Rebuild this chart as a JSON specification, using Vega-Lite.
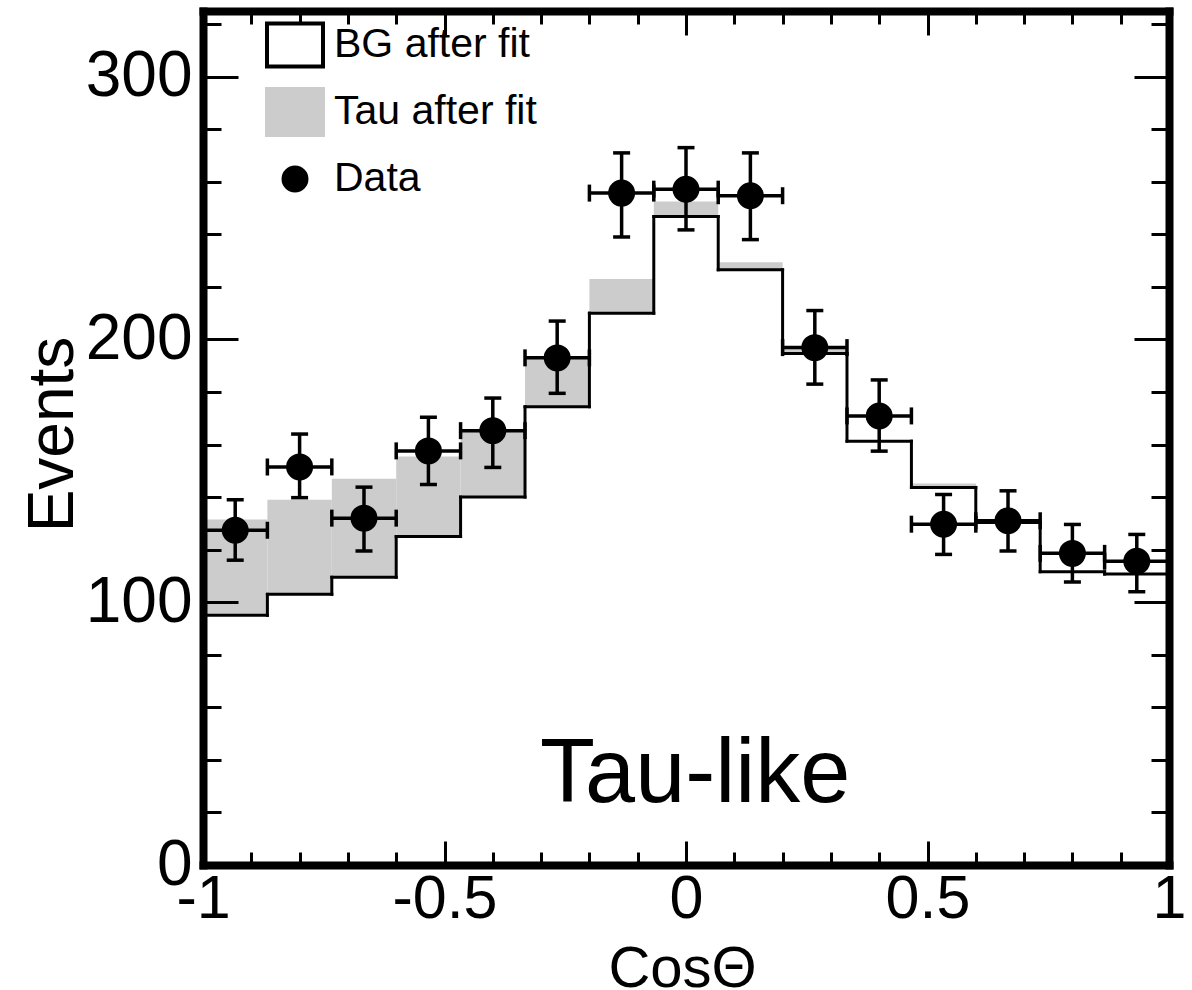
{
  "$schema": "https://vega.github.io/schema/vega-lite/v6.json",
  "autosize": "none",
  "width": 966,
  "height": 854,
  "padding": {"left": 203, "top": 11, "right": 23, "bottom": 125},
  "background": "white",
  "config": {
    "view": {"stroke": null},
    "font": "Liberation Sans",
    "legend": {
      "orient": "none",
      "legendX": 62,
      "legendY": 4,
      "padding": 0,
      "labelFont": "Liberation Sans",
      "labelFontSize": 41,
      "labelColor": "black",
      "labelOffset": 9,
      "labelLimit": 0,
      "rowPadding": 6,
      "symbolStrokeWidth": 4,
      "symbolSize": 3136
    }
  },
  "datasets": {
    "bins": [
      {"lo": -1, "hi": -0.8667, "x": -0.9333, "bg": 95, "total": 131.5, "data": 127.4, "elo": 116, "ehi": 139},
      {"lo": -0.8667, "hi": -0.7333, "x": -0.8, "bg": 103, "total": 139, "data": 151.5, "elo": 139.8, "ehi": 164},
      {"lo": -0.7333, "hi": -0.6, "x": -0.6667, "bg": 109.5, "total": 147, "data": 132, "elo": 119.5, "ehi": 143.8},
      {"lo": -0.6, "hi": -0.4667, "x": -0.5333, "bg": 125, "total": 155.5, "data": 157.6, "elo": 144.8, "ehi": 170.4},
      {"lo": -0.4667, "hi": -0.3333, "x": -0.4, "bg": 140, "total": 165, "data": 165.3, "elo": 151.3, "ehi": 177.7},
      {"lo": -0.3333, "hi": -0.2, "x": -0.2667, "bg": 174.4, "total": 193.5, "data": 193, "elo": 179.5, "ehi": 207},
      {"lo": -0.2, "hi": -0.0667, "x": -0.1333, "bg": 210, "total": 223, "data": 255.7, "elo": 239, "ehi": 271},
      {"lo": -0.0667, "hi": 0.0667, "x": 0, "bg": 246.8, "total": 252.5, "data": 257.2, "elo": 241.7, "ehi": 273},
      {"lo": 0.0667, "hi": 0.2, "x": 0.1333, "bg": 226.5, "total": 229.4, "data": 254.7, "elo": 238, "ehi": 271},
      {"lo": 0.2, "hi": 0.3333, "x": 0.2667, "bg": 194.7, "total": 196.6, "data": 196.9, "elo": 183, "ehi": 211},
      {"lo": 0.3333, "hi": 0.4667, "x": 0.4, "bg": 161.3, "total": 161.3, "data": 170.9, "elo": 157.5, "ehi": 184.6},
      {"lo": 0.4667, "hi": 0.6, "x": 0.5333, "bg": 143.7, "total": 145.2, "data": 129.7, "elo": 118.2, "ehi": 141},
      {"lo": 0.6, "hi": 0.7333, "x": 0.6667, "bg": 130.3, "total": 130.3, "data": 131, "elo": 119.5, "ehi": 142.4},
      {"lo": 0.7333, "hi": 0.8667, "x": 0.8, "bg": 111.6, "total": 111.6, "data": 118.6, "elo": 107.7, "ehi": 129.6},
      {"lo": 0.8667, "hi": 1, "x": 0.9333, "bg": 110.7, "total": 110.7, "data": 115.6, "elo": 104, "ehi": 125.8}
    ],
    "note": [
      {"label": "Tau-like", "x": 0.019, "y": 24}
    ]
  },
  "data": {"name": "bins"},
  "resolve": {"axis": {"x": "independent", "y": "independent"}},
  "layer": [
    {
      "mark": {"type": "rect", "fill": "#cccccc", "stroke": null},
      "encoding": {
        "x": {
          "field": "lo", "type": "quantitative",
          "scale": {"domain": [-1, 1], "nice": false, "zero": false},
          "axis": {
            "orient": "bottom",
            "values": [-1, -0.9, -0.8, -0.7, -0.6, -0.5, -0.4, -0.3, -0.2, -0.1, 0, 0.1, 0.2, 0.3, 0.4, 0.5, 0.6, 0.7, 0.8, 0.9, 1],
            "labelExpr": "datum.value % 0.5 === 0 ? toString(datum.value) : ''",
            "tickSize": {"condition": {"test": "datum.value % 0.5 === 0", "value": -24}, "value": -13},
            "tickWidth": 3, "tickColor": "black",
            "domain": true, "domainWidth": 8, "domainColor": "black", "domainCap": "square",
            "grid": false,
            "labelFont": "Liberation Sans", "labelFontSize": 61, "labelColor": "black",
            "labelPadding": 76, "labelBaseline": "alphabetic", "labelFlush": false, "labelOverlap": false,
            "title": "CosΘ", "titleFont": "Liberation Sans", "titleFontSize": 58, "titleFontWeight": "normal",
            "titleColor": "black", "titleX": 479, "titleY": 121, "titleBaseline": "alphabetic", "titleAlign": "center",
            "zindex": 2
          }
        },
        "x2": {"field": "hi"},
        "y": {
          "field": "bg", "type": "quantitative",
          "scale": {"domain": [0, 325], "nice": false, "zero": false},
          "axis": {
            "orient": "left",
            "values": [0, 20, 40, 60, 80, 100, 120, 140, 160, 180, 200, 220, 240, 260, 280, 300, 320],
            "labelExpr": "datum.value % 100 === 0 ? toString(datum.value) : ''",
            "tickSize": {"condition": {"test": "datum.value % 100 === 0", "value": -35}, "value": -18},
            "tickWidth": 3, "tickColor": "black",
            "domain": true, "domainWidth": 8, "domainColor": "black", "domainCap": "square",
            "grid": false,
            "labelFont": "Liberation Sans", "labelFontSize": 64, "labelColor": "black",
            "labelPadding": 46, "labelAlign": "right", "labelBaseline": "middle", "labelOverlap": false, "labelFlush": false,
            "title": "Events", "titleFont": "Liberation Sans", "titleFontSize": 64, "titleFontWeight": "normal",
            "titleColor": "black", "titleX": -131, "titleY": 423, "titleAngle": 270,
            "titleBaseline": "alphabetic", "titleAlign": "center",
            "zindex": 2
          }
        },
        "y2": {"field": "total"}
      }
    },
    {
      "mark": {"type": "rule", "color": "black", "strokeWidth": 3, "strokeCap": "square"},
      "encoding": {
        "x": {"field": "lo", "type": "quantitative", "axis": null},
        "x2": {"field": "hi"},
        "y": {"field": "bg", "type": "quantitative", "axis": null}
      }
    },
    {
      "transform": [
        {"window": [{"op": "lead", "field": "bg", "as": "bg_next"}], "sort": [{"field": "lo", "order": "ascending"}]},
        {"filter": "datum.bg_next != null"}
      ],
      "mark": {"type": "rule", "color": "black", "strokeWidth": 3, "strokeCap": "square"},
      "encoding": {
        "x": {"field": "hi", "type": "quantitative", "axis": null},
        "y": {"field": "bg", "type": "quantitative", "axis": null},
        "y2": {"field": "bg_next"}
      }
    },
    {
      "mark": {"type": "errorbar", "size": 17, "thickness": 3.5, "color": "black", "opacity": 1,
               "ticks": {"color": "black", "opacity": 1}, "rule": {"color": "black", "opacity": 1}},
      "encoding": {
        "x": {"field": "lo", "type": "quantitative", "axis": null},
        "x2": {"field": "hi"},
        "y": {"field": "data", "type": "quantitative", "axis": null}
      }
    },
    {
      "mark": {"type": "errorbar", "size": 17, "thickness": 3.5, "color": "black", "opacity": 1,
               "ticks": {"color": "black", "opacity": 1}, "rule": {"color": "black", "opacity": 1}},
      "encoding": {
        "x": {"field": "x", "type": "quantitative", "axis": null},
        "y": {"field": "elo", "type": "quantitative", "axis": null},
        "y2": {"field": "ehi"}
      }
    },
    {
      "mark": {"type": "point", "filled": true, "opacity": 1, "strokeWidth": 4, "size": 3136},
      "encoding": {
        "x": {"field": "x", "type": "quantitative", "axis": null},
        "y": {"field": "data", "type": "quantitative", "axis": null},
        "fill": {
          "datum": "Data", "type": "nominal", "title": null,
          "scale": {"domain": ["BG after fit", "Tau after fit", "Data"], "range": ["white", "#cccccc", "black"]}
        },
        "stroke": {
          "datum": "Data", "type": "nominal", "title": null,
          "scale": {"domain": ["BG after fit", "Tau after fit", "Data"], "range": ["black", "#cccccc", "black"]}
        },
        "shape": {
          "datum": "Data", "type": "nominal", "title": null,
          "scale": {"domain": ["BG after fit", "Tau after fit", "Data"], "range": ["M-1,-0.77H1V0.77H-1Z", "M-1,-0.82H1V0.82H-1Z", "M0.41,0A0.41,0.41,0,1,1,-0.41,0A0.41,0.41,0,1,1,0.41,0Z"]}
        }
      }
    },
    {
      "data": {"name": "note"},
      "mark": {"type": "text", "font": "Liberation Sans", "fontSize": 90, "color": "black", "align": "center", "baseline": "alphabetic"},
      "encoding": {
        "text": {"field": "label"},
        "x": {
          "field": "x", "type": "quantitative",
          "axis": {
            "orient": "top",
            "values": [-1, -0.9, -0.8, -0.7, -0.6, -0.5, -0.4, -0.3, -0.2, -0.1, 0, 0.1, 0.2, 0.3, 0.4, 0.5, 0.6, 0.7, 0.8, 0.9, 1],
            "labels": false,
            "tickSize": {"condition": {"test": "datum.value % 0.5 === 0", "value": -24}, "value": -13},
            "tickWidth": 3, "tickColor": "black",
            "domain": true, "domainWidth": 8, "domainColor": "black", "domainCap": "square",
            "grid": false, "title": null, "zindex": 2
          }
        },
        "y": {
          "field": "y", "type": "quantitative",
          "axis": {
            "orient": "right",
            "values": [0, 20, 40, 60, 80, 100, 120, 140, 160, 180, 200, 220, 240, 260, 280, 300, 320],
            "labels": false,
            "tickSize": {"condition": {"test": "datum.value % 100 === 0", "value": -35}, "value": -18},
            "tickWidth": 3, "tickColor": "black",
            "domain": true, "domainWidth": 8, "domainColor": "black", "domainCap": "square",
            "grid": false, "title": null, "zindex": 2
          }
        }
      }
    }
  ]
}
